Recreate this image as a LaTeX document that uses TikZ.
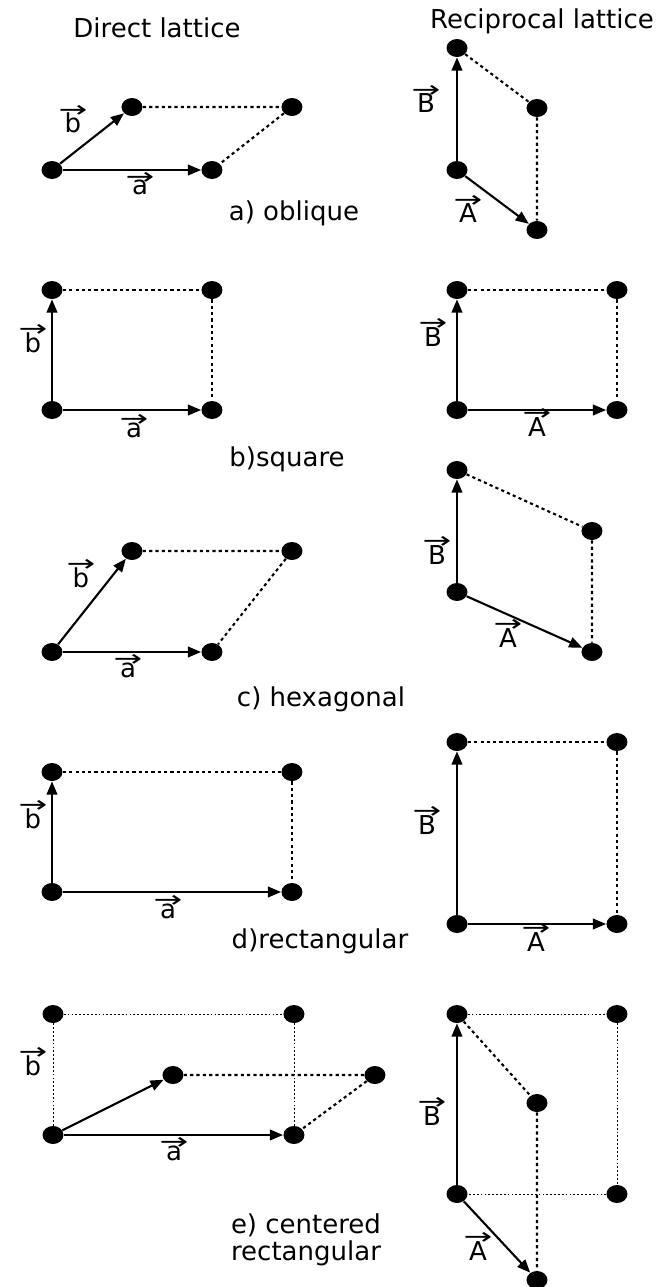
\documentclass[tikz,border=0pt]{standalone}
\usepackage{fontspec}
\setmainfont{DejaVu Sans}
\usetikzlibrary{arrows.meta,positioning,shapes.geometric}
% letter with a small arrow above it
\newcommand{\vlabel}[1]{\ooalign{#1\cr\hidewidth\raisebox{\dimexpr\fontcharht\font`#1-2pt\relax}{\fontsize{13}{13}\selectfont\scalebox{1.5}[1]{→}}\hidewidth\cr}}

\begin{document}
\begin{tikzpicture}[x=0.02cm,y=-0.02cm,on grid,
  font=\fontsize{14.8}{15.5}\selectfont,
  site/.style={ellipse,fill,inner sep=0pt,minimum width=.42cm,minimum height=.36cm},
  basis/.style={-{Triangle[length=7.5pt,width=6pt]},line width=1.2pt},
  cell/.style={line width=1.2pt,dash pattern=on 1.8pt off 1.8pt},
  aux/.style={line width=.5pt,dash pattern=on 1pt off 1.2pt},
  lbl/.style={anchor=base}]
  \useasboundingbox (0,0) rectangle (660,1287);

  \node (direct) at (157,28) {Direct lattice};
  \node (recip) at (542,21) {Reciprocal lattice};

  % a) oblique
  \node[site] (o1) at (52,170) {};
  \node[site] (a1) [right=3.2cm of o1] {};
  \node[site] (b1) [above right=1.26cm and 1.6cm of o1] {};
  \node[site] (ab1) [right=3.2cm of b1] {};
  \draw[basis] (o1) -- (a1);
  \draw[basis] (o1) -- (b1);
  \draw[cell] (b1) -- (ab1) -- (a1);
  \node[lbl] (lb1) at (73,133) {\vlabel{b}};
  \node[lbl] (la1) at (140,195) {\vlabel{a}};
  \node[site] (O1) at (457,170) {};
  \node[site] (B1) [above=2.44cm of O1] {};
  \node[site] (A1) [below right=1.2cm and 1.6cm of O1] {};
  \node[site] (AB1) [above=2.44cm of A1] {};
  \draw[basis] (O1) -- (B1);
  \draw[basis] (O1) -- (A1);
  \draw[cell] (B1) -- (AB1) -- (A1);
  \node[lbl] (lB1) at (426,113) {\vlabel{B}};
  \node[lbl] (lA1) at (468,223) {\vlabel{A}};
  \node[lbl] (cap1) at (294,221) {a) oblique};

  % b) square
  \node[site] (o2) at (52,410) {};
  \node[site] (a2) [right=3.2cm of o2] {};
  \node[site] (b2) [above=2.4cm of o2] {};
  \node[site] (ab2) [right=3.2cm of b2] {};
  \draw[basis] (o2) -- (a2);
  \draw[basis] (o2) -- (b2);
  \draw[cell] (b2) -- (ab2) -- (a2);
  \node[lbl] (lb2) at (33,352) {\vlabel{b}};
  \node[lbl] (la2) at (134,437) {\vlabel{a}};
  \node[site] (O2) at (457,410) {};
  \node[site] (A2) [right=3.2cm of O2] {};
  \node[site] (B2) [above=2.4cm of O2] {};
  \node[site] (AB2) [right=3.2cm of B2] {};
  \draw[basis] (O2) -- (A2);
  \draw[basis] (O2) -- (B2);
  \draw[cell] (B2) -- (AB2) -- (A2);
  \node[lbl] (lB2) at (433,346) {\vlabel{B}};
  \node[lbl] (lA2) at (537,436) {\vlabel{A}};
  \node[lbl] (cap2) at (287,466) {b)square};

  % c) hexagonal
  \node[site] (o3) at (52,652) {};
  \node[site] (a3) [right=3.2cm of o3] {};
  \node[site] (b3) [above right=2.02cm and 1.6cm of o3] {};
  \node[site] (ab3) [right=3.2cm of b3] {};
  \draw[basis] (o3) -- (a3);
  \draw[basis] (o3) -- (b3);
  \draw[cell] (b3) -- (ab3) -- (a3);
  \node[lbl] (lb3) at (81,587) {\vlabel{b}};
  \node[lbl] (la3) at (128,677) {\vlabel{a}};
  \node[site] (O3) at (457,592) {};
  \node[site] (B3) [above=2.44cm of O3] {};
  \node[site] (A3) [below right=1.2cm and 2.7cm of O3] {};
  \node[site] (AB3) [above=2.42cm of A3] {};
  \draw[basis] (O3) -- (B3);
  \draw[basis] (O3) -- (A3);
  \draw[cell] (B3) -- (AB3) -- (A3);
  \node[lbl] (lB3) at (437,564) {\vlabel{B}};
  \node[lbl] (lA3) at (508,647) {\vlabel{A}};
  \node[lbl] (cap3) at (321,706) {c) hexagonal};

  % d) rectangular
  \node[site] (o4) at (52,892) {};
  \node[site] (a4) [right=4.8cm of o4] {};
  \node[site] (b4) [above=2.4cm of o4] {};
  \node[site] (ab4) [right=4.8cm of b4] {};
  \draw[basis] (o4) -- (a4);
  \draw[basis] (o4) -- (b4);
  \draw[cell] (b4) -- (ab4) -- (a4);
  \node[lbl] (lb4) at (33,828) {\vlabel{b}};
  \node[lbl] (la4) at (168,918) {\vlabel{a}};
  \node[site] (O4) at (457,924) {};
  \node[site] (A4) [right=3.2cm of O4] {};
  \node[site] (B4) [above=3.64cm of O4] {};
  \node[site] (AB4) [right=3.2cm of B4] {};
  \draw[basis] (O4) -- (A4);
  \draw[basis] (O4) -- (B4);
  \draw[cell] (B4) -- (AB4) -- (A4);
  \node[lbl] (lB4) at (427,834) {\vlabel{B}};
  \node[lbl] (lA4) at (536,951) {\vlabel{A}};
  \node[lbl] (cap4) at (320,948) {d)rectangular};

  % e) centered rectangular
  \node[site] (o5) at (53,1135) {};
  \node[site] (a5) [right=4.82cm of o5] {};
  \node[site] (b5) [above=2.42cm of o5] {};
  \node[site] (ab5) [right=4.82cm of b5] {};
  \node[site] (c5) [above right=1.2cm and 2.4cm of o5] {};
  \node[site] (ac5) [right=4.04cm of c5] {};
  \draw[aux] (o5) -- (b5) -- (ab5) -- (a5);
  \draw[basis] (o5) -- (a5);
  \draw[basis] (o5) -- (c5);
  \draw[cell] (c5) -- (ac5) -- (a5);
  \node[lbl] (lb5) at (33,1075) {\vlabel{b}};
  \node[lbl] (la5) at (174,1160) {\vlabel{a}};
  \node[site] (O5) at (457,1194) {};
  \node[site] (R5) [right=3.2cm of O5] {};
  \node[site] (B5) [above=3.6cm of O5] {};
  \node[site] (BR5) [right=3.2cm of B5] {};
  \node[site] (C5) [below right=1.78cm and 1.6cm of B5] {};
  \node[site] (A5) [below right=1.72cm and 1.6cm of O5] {};
  \draw[aux] (B5) -- (BR5) -- (R5) -- (O5);
  \draw[basis] (O5) -- (B5);
  \draw[basis] (O5) -- (A5);
  \draw[cell] (B5) -- (C5) -- (A5);
  \node[lbl] (lB5) at (432,1125) {\vlabel{B}};
  \node[lbl] (lA5) at (478,1260) {\vlabel{A}};
  \node[align=center] (cap5) at (306,1240) {e) centered\\rectangular};
\end{tikzpicture}
\end{document}
